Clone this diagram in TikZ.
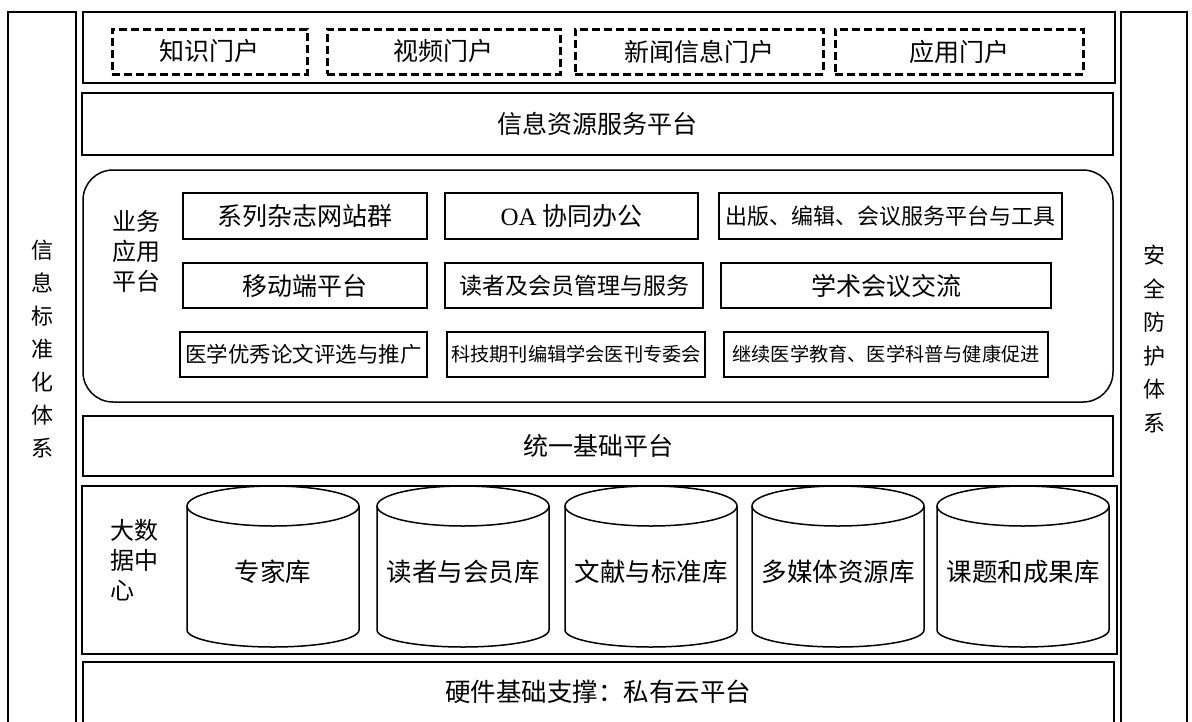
\documentclass[tikz,border=0pt]{standalone}
\usepackage{fontspec}
\setmainfont{Noto Sans CJK SC}
\newfontfamily\latfont{Liberation Serif}
\begin{document}
\begin{tikzpicture}[x=1pt,y=-1pt,
  frame/.style={draw, line width=1.5pt, inner sep=0pt},
  dbox/.style={draw, line width=3pt, dash pattern=on 8pt off 4pt, inner sep=0pt, font=\fontsize{25}{28}\selectfont},
  ibox/.style={draw, line width=1.6pt, inner sep=0pt, font=\fontsize{25}{28}\selectfont},
  lbl/.style={inner sep=0pt, font=\fontsize{25}{28}\selectfont},
  cyl/.style={draw, line width=1.5pt},
  vtext/.style={inner sep=0pt, align=center},
  side/.style={inner sep=0pt, align=left, font=\fontsize{24}{30}\selectfont}]
\useasboundingbox (0,0) rectangle (1192,721);

% side columns
\draw[frame] (8,730) -- (8,12) -- (76,12) -- (76,730);
\draw[frame] (1121,730) -- (1121,12) -- (1187,12) -- (1187,730);
\node[vtext, font=\fontsize{22}{33}\selectfont] (std) at (42,349) {信\\息\\标\\准\\化\\体\\系};
\node[vtext, font=\fontsize{22}{33.6}\selectfont] (sec) at (1154,339) {安\\全\\防\\护\\体\\系};

% portals
\node[frame, minimum width=1032pt, minimum height=71pt] (portal) at (599,47.5) {};
\node[dbox, minimum width=195pt, minimum height=45pt] (p1) at (209.5,51.5) {知识门户};
\node[dbox, minimum width=233pt, minimum height=45pt] (p2) at (443.5,51.5) {视频门户};
\node[dbox, minimum width=248pt, minimum height=45pt] (p3) at (699,51.5) {新闻信息门户};
\node[dbox, minimum width=248pt, minimum height=45pt] (p4) at (959,51.5) {应用门户};

% info resource service platform
\node[ibox, minimum width=1031pt, minimum height=62pt] (info) at (597.5,124) {信息资源服务平台};

% business application platform
\node[frame, rounded corners=30pt, minimum width=1030pt, minimum height=232pt] (biz) at (598,286) {};
\node[side, anchor=west] (bizlbl) at (112,251) {业务\\应用\\平台};
\node[ibox, minimum width=244pt, minimum height=46pt] (a1) at (305,216) {系列杂志网站群};
\node[ibox, minimum width=253pt, minimum height=46pt] (a2) at (571.5,216) {{\latfont OA} 协同办公};
\node[ibox, minimum width=343pt, minimum height=46pt, font=\fontsize{22}{28}\selectfont] (a3) at (890.5,216) {出版、编辑、会议服务平台与工具};
\node[ibox, minimum width=244pt, minimum height=45pt] (b1) at (305,285.5) {移动端平台};
\node[ibox, minimum width=258pt, minimum height=45pt, font=\fontsize{23}{28}\selectfont] (b2) at (574,285.5) {读者及会员管理与服务};
\node[ibox, minimum width=330pt, minimum height=45pt] (b3) at (886,285.5) {学术会议交流};
\node[ibox, minimum width=247pt, minimum height=45pt, font=\fontsize{21.5}{28}\selectfont] (c1) at (303.5,354.5) {医学优秀论文评选与推广};
\node[ibox, minimum width=258pt, minimum height=45pt, font=\fontsize{19.2}{28}\selectfont] (c2) at (576,354.5) {科技期刊编辑学会医刊专委会};
\node[ibox, minimum width=324pt, minimum height=45pt, font=\fontsize{19.2}{28}\selectfont] (c3) at (886,354.5) {继续医学教育、医学科普与健康促进};

% unified base platform
\node[ibox, minimum width=1030pt, minimum height=60pt] (base) at (598,446) {统一基础平台};

% big data center
\node[frame, minimum width=1035pt, minimum height=168pt] (bigdata) at (599.5,570) {};
\node[side, anchor=west] (bdlbl) at (110,560) {大数\\据中\\心};
\foreach \cx/\nm/\txt in {273/db1/专家库, 463/db2/读者与会员库, 651/db3/文献与标准库, 838/db4/多媒体资源库, 1023/db5/课题和成果库} {
  \draw[cyl, fill=white] (\cx,506) ellipse [x radius=86pt, y radius=20pt];
  \draw[cyl] (\cx-86,506) -- (\cx-86,630) arc[start angle=180, end angle=360, x radius=86pt, y radius=17pt] -- (\cx+86,506);
  \node[lbl, font=\fontsize{25.5}{28}\selectfont] (\nm) at (\cx,572) {\txt};
}

% hardware
\draw[frame] (83,730) -- (83,662) -- (1114,662) -- (1114,730);
\node[lbl, font=\fontsize{25.5}{28}\selectfont] (hw) at (598,692) {硬件基础支撑：私有云平台};
\end{tikzpicture}
\end{document}
